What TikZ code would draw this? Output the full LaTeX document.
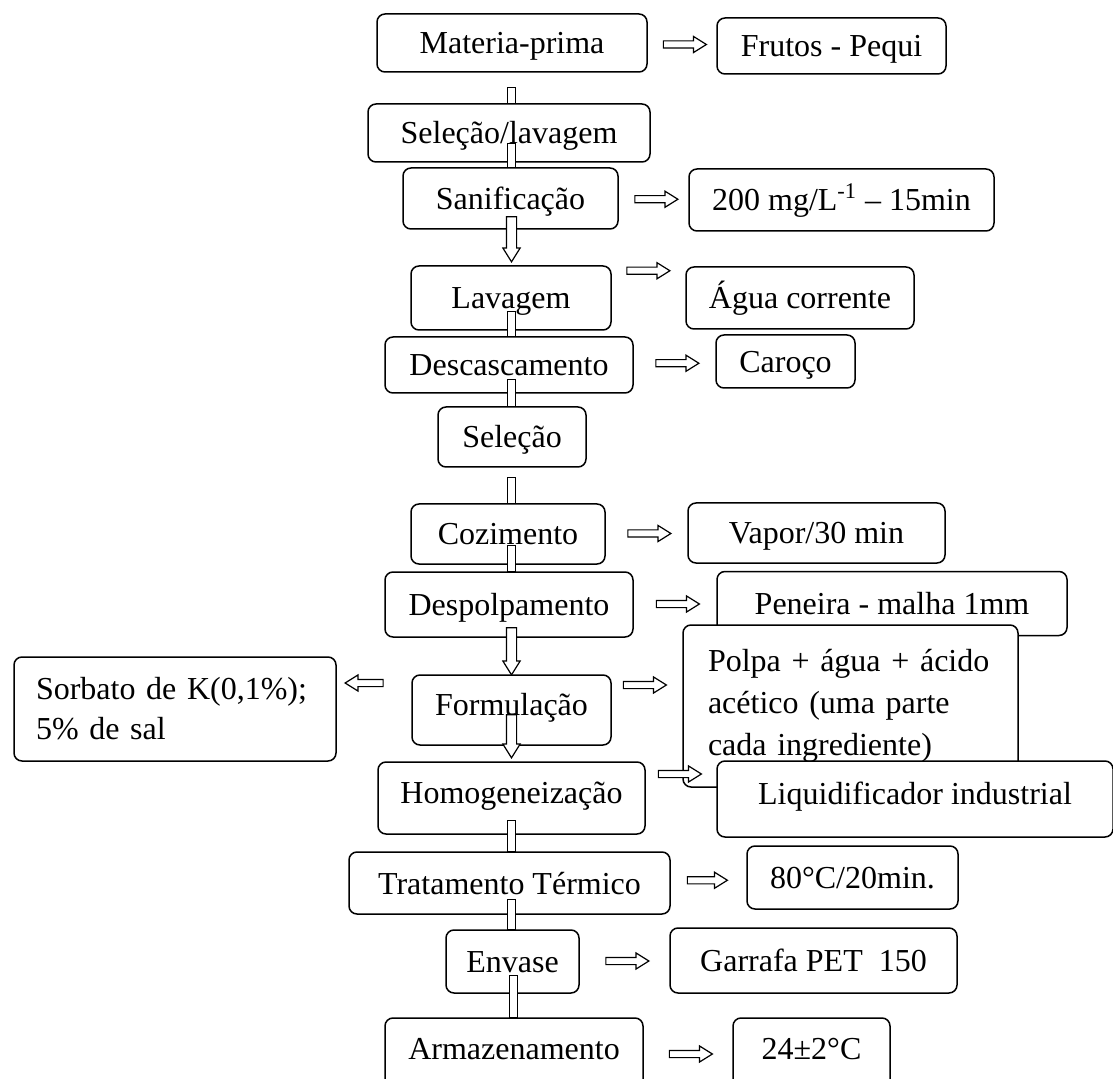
\documentclass[tikz,border=0pt]{standalone}
\usepackage{fontspec}
\setmainfont{Liberation Serif}
\usepackage{tikz}
\usetikzlibrary{shapes.arrows,calc}

\tikzset{
  base/.style={draw, line width=0.75pt, rounded corners=4pt, fill=white, inner sep=2pt,
    font=\fontsize{16}{22.5}\selectfont},
  box/.style={base, text height=13.5pt, text depth=2.5pt},
  hi/.style={text height=13pt, text depth=8pt},
  tbox/.style={base, align=left},
  bar/.style={draw, line width=0.6pt, fill=white},
  rarr/.style={single arrow, draw, fill=white, line width=0.6pt, inner sep=1.5pt,
    minimum height=21.5pt, single arrow head extend=2.25pt, single arrow tip angle=64},
  larr/.style={rarr, shape border rotate=180},
  darr/.style={rarr, shape border rotate=270, inner sep=2.25pt, single arrow head extend=1.75pt}
}

\begin{document}
\begin{tikzpicture}[x=0.5pt, y=-0.5pt]
  \useasboundingbox (0,0) rectangle (1113,1079);
  \clip (0,0) rectangle (1113,1079);
  \coordinate (spine) at (511.5,0);

  % Main steps
  \node[box, minimum width=135pt, minimum height=29pt] (mp) at (512,43) {Materia-prima};
  \node[box, minimum width=141pt, minimum height=29pt] (sl) at (509,133) {Seleção/lavagem};
  \node[box, minimum width=107.5pt, minimum height=30.5pt] (san) at (510.5,198.5) {Sanificação};
  \node[box, minimum width=100pt, minimum height=32pt] (lav) at (511,298) {Lavagem};
  \node[box, minimum width=124pt, minimum height=28pt] (desc) at (509,365) {Descascamento};
  \node[box, minimum width=74pt, minimum height=30pt] (sel) at (512,437) {Seleção};
  \node[box, minimum width=97pt, minimum height=30pt] (coz) at (508,534) {Cozimento};
  \node[box, minimum width=124pt, minimum height=32.5pt] (desp) at (509,604.5) {Despolpamento};
  \node[box, hi, minimum width=99.5pt, minimum height=35pt] (form) at (511.5,710) {Formulação};
  \node[box, hi, minimum width=133.5pt, minimum height=36pt] (homog) at (511.5,798) {Homogeneização};
  \node[box, minimum width=160.5pt, minimum height=31pt] (trat) at (509.5,883) {Tratamento Térmico};
  \node[box, minimum width=66.5pt, minimum height=31.5pt] (env) at (512.5,961.5) {Envase};
  \node[box, hi, minimum width=129pt, minimum height=36pt] (arm) at (514,1054) {Armazenamento};

  % Conditions
  \node[box, minimum width=114.5pt, minimum height=28pt] (fp) at (831.5,46) {Frutos - Pequi};
  \node[box, minimum width=152.5pt, minimum height=31pt] (mg) at (841.5,200) {200 mg/L\textsuperscript{-1} – 15min};
  \node[box, minimum width=114pt, minimum height=31pt] (agua) at (800,298) {Água corrente};
  \node[box, minimum width=69.5pt, minimum height=26.5pt] (car) at (785.5,361.5) {Caroço};
  \node[box, minimum width=128.5pt, minimum height=30pt] (vap) at (816.5,533) {Vapor/30 min};
  \node[box, minimum width=175pt, minimum height=32pt] (pen) at (892,603.5) {Peneira - malha 1mm};
  \node[tbox, minimum width=161pt, minimum height=52pt, inner xsep=11pt, text width=139pt,
    font=\fontsize{16}{20}\selectfont] (sorb) at (175,709) {Sorbato de K(0,1\%);\\5\% de sal};
  \node[tbox, minimum width=167.5pt, minimum height=81pt, inner xsep=12.5pt, text width=142.5pt,
    font=\fontsize{16}{21}\selectfont] (polpa) at (850.5,706) {Polpa + água + ácido\\acético (uma parte\\cada ingrediente)};
  \node[box, hi, minimum width=198pt, minimum height=38pt] (liq) at (915,799) {Liquidificador industrial};
  \node[box, minimum width=105.5pt, minimum height=31.5pt] (c80) at (852.5,877.5) {80°C/20min.};
  \node[box, minimum width=143.5pt, minimum height=32.5pt] (garr) at (813.5,960.5) {Garrafa PET\ \ 150};
  \node[box, hi, minimum width=78.5pt, minimum height=36pt] (t24) at (811.5,1054) {24±2°C};

  % Vertical links
  \draw[bar] ($(mp.south -| spine)+(-4,15)$) rectangle ($(sl.north -| spine)+(4,0)$);
  \draw[bar] ($(sl.south -| spine)+(-4,-19)$) rectangle ($(san.north -| spine)+(4,0)$);
  \node[darr, minimum height=22.5pt] (d1) at ($(san.south -| spine)+(0,5.5)$) {};
  \draw[bar] ($(lav.south -| spine)+(-4,-19)$) rectangle ($(desc.north -| spine)+(4,0)$);
  \draw[bar] ($(desc.south -| spine)+(-4,-14)$) rectangle ($(sel.north -| spine)+(4,0)$);
  \draw[bar] ($(sel.south -| spine)+(-4,10)$) rectangle ($(coz.north -| spine)+(4,0)$);
  \draw[bar] ($(coz.south -| spine)+(-4,-19)$) rectangle ($(desp.north -| spine)+(4,0)$);
  \node[darr, minimum height=23.5pt] (d2) at ($(desp.south -| spine)+(0,9.5)$) {};
  \node[darr, minimum height=21.5pt] (d3) at ($(form.south -| spine)+(0,-13.5)$) {};
  \draw[bar] ($(homog.south -| spine)+(-4,-14)$) rectangle ($(trat.north -| spine)+(4,0)$);
  \draw[bar] ($(trat.south -| spine)+(-4,-15)$) rectangle ($(env.north -| spine)+(4,0)$);
  \draw[bar] ($(env.south -| spine)+(-2,-18)$) rectangle ($(arm.north -| spine)+(6,0)$);

  % Side arrows
  \node[rarr] (a1) at ($(mp.east)!.5!(fp.west)$) {};
  \node[rarr] (a2) at ($(san.east)!.5!(mg.west)$) {};
  \node[rarr] (a3) at ($(lav.north east)!.5!(agua.north west)+(-3,5)$) {};
  \node[rarr] (a4) at ($(desc.east)!.5!(car.west)$) {};
  \node[rarr] (a5) at ($(coz.east)!.5!(vap.west)$) {};
  \node[rarr] (a6) at ($(desp.east)!.5!(pen.west)$) {};
  \node[larr, minimum height=19pt] (a7) at ($(sorb.east)!.5!(form.west)+(-7,-26.5)$) {};
  \node[rarr] (a8) at ($(form.east)!.5!(polpa.west)+(-5,-23)$) {};
  \node[rarr] (a9) at ($(homog.east)!.5!(liq.west)+(-4,-24.5)$) {};
  \node[rarr, minimum height=20pt] (a10) at ($(trat.east)!.5!(c80.west)+(-4,0)$) {};
  \node[rarr] (a11) at ($(env.east)!.5!(garr.west)$) {};
  \node[rarr] (a12) at ($(arm.east)!.5!(t24.west)$) {};
\end{tikzpicture}
\end{document}
